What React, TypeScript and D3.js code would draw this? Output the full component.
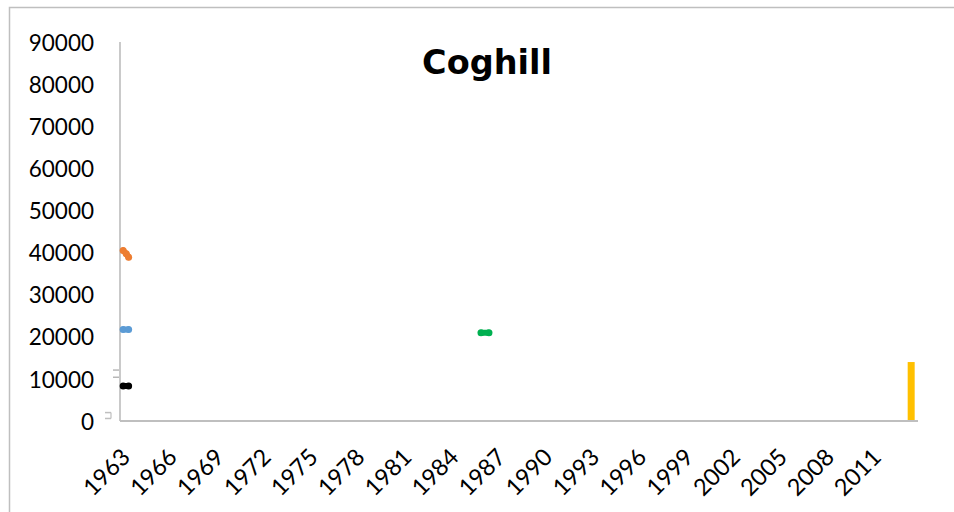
import React from "react";
import * as d3 from "d3";

const title = "Coghill";
const yTicks = [0, 10000, 20000, 30000, 40000, 50000, 60000, 70000, 80000, 90000];
const firstYear = 1963;
const lastYear = 2013;
const labelStep = 3;
const lastLabelYear = 2011;

// fractional years (positions inside the yearly band) and values
const orangeYears = [1963.2, 1963.4, 1963.55];
const orangeValues = [40500, 39700, 38900];
const blueYears = [1963.2, 1963.55];
const blueValues = [21700, 21700];
const blackYears = [1963.2, 1963.55];
const blackValues = [8300, 8300];
const greenYears = [1986.07, 1986.58];
const greenValues = [20950, 20950];
const barYears = [2013];
const barValues = [14000];

// tiny grey marks next to the axis
const markValues = [12100, 10400];
const zeroMarkValues = [2000, 600];

const W = 954;
const H = 512;
const M = { left: 120, right: 918, top: 42, bottom: 421 };
const FONT = "Lato, 'Open Sans', sans-serif";
const TITLE_FONT = "'DejaVu Sans', sans-serif";

export default function App() {
  const x = d3.scaleLinear().domain([firstYear, lastYear + 1]).range([M.left, M.right]);
  const y = d3.scaleLinear().domain([0, 90000]).range([M.bottom, M.top]);
  const years = d3.range(firstYear, lastYear + 1);
  const labelYears = years.filter((yr) => (yr - firstYear) % labelStep === 0 && yr <= lastLabelYear);
  const line = d3
    .line<[number, number]>()
    .x((d) => x(d[0]))
    .y((d) => y(d[1]));

  const series = [
    { ys: orangeYears, vs: orangeValues, color: "#ED7D31" },
    { ys: blueYears, vs: blueValues, color: "#5B9BD5" },
    { ys: blackYears, vs: blackValues, color: "#000000" },
    { ys: greenYears, vs: greenValues, color: "#00B050" },
  ];

  return (
    <svg
      width={W}
      height={H}
      style={{ position: "fixed", left: 0, top: 0, background: "#fff" }}
    >
      <rect x={9.5} y={7.5} width={W + 20} height={H + 20} fill="#fff" stroke="#BFBFBF" strokeWidth={1.5} />
      <text
        x={487}
        y={73.5}
        textAnchor="middle"
        fontFamily={TITLE_FONT}
        fontWeight="bold"
        fontSize={33.5}
        fill="#000"
      >
        {title}
      </text>
      {yTicks.map((t) => (
        <text
          key={t}
          x={94}
          y={y(t) + 3}
          textAnchor="end"
          dominantBaseline="middle"
          fontFamily={FONT}
          fontSize={22.5}
          fill="#000"
        >
          {t}
        </text>
      ))}
      {labelYears.map((yr) => {
        const cx = x(yr + 0.5) - 0.5;
        const cy = M.bottom + 33.5;
        return (
          <text
            key={yr}
            transform={`translate(${cx},${cy}) rotate(-45)`}
            textAnchor="end"
            dominantBaseline="middle"
            fontFamily={FONT}
            fontSize={23.5}
            fill="#000"
          >
            {yr}
          </text>
        );
      })}
      <line x1={M.left} x2={M.left} y1={M.top} y2={M.bottom} stroke="#A6A6A6" strokeWidth={1.2} />
      <line x1={M.left} x2={M.right} y1={M.bottom} y2={M.bottom} stroke="#BFBFBF" strokeWidth={2} />
      {markValues.map((v) => (
        <line key={v} x1={M.left - 7} x2={M.left - 1} y1={y(v)} y2={y(v)} stroke="#A6A6A6" strokeWidth={1.2} />
      ))}
      {zeroMarkValues.map((v) => (
        <line key={v} x1={M.left - 15} x2={M.left - 9} y1={y(v)} y2={y(v)} stroke="#BFBFBF" strokeWidth={1.5} />
      ))}
      <line
        x1={M.left - 9}
        x2={M.left - 9}
        y1={y(zeroMarkValues[0])}
        y2={y(zeroMarkValues[1])}
        stroke="#BFBFBF"
        strokeWidth={1.2}
      />
      {barYears.map((yr, i) => {
        const bw = 7;
        const cx = x(yr + 0.5) + 1;
        return (
          <rect
            key={yr}
            x={cx - bw / 2}
            y={y(barValues[i])}
            width={bw}
            height={y(0) - y(barValues[i]) - 1}
            fill="#FFC000"
          />
        );
      })}
      {series.map((s, si) => {
        const pts: [number, number][] = s.ys.map((yr, i) => [yr, s.vs[i]]);
        return (
          <g key={si}>
            <path
              d={line(pts) || ""}
              fill="none"
              stroke={s.color}
              strokeWidth={6}
              strokeLinecap="round"
              strokeLinejoin="round"
            />
            {pts.map((p, i) => (
              <circle key={i} cx={x(p[0])} cy={y(p[1])} r={3.5} fill={s.color} />
            ))}
          </g>
        );
      })}
    </svg>
  );
}
